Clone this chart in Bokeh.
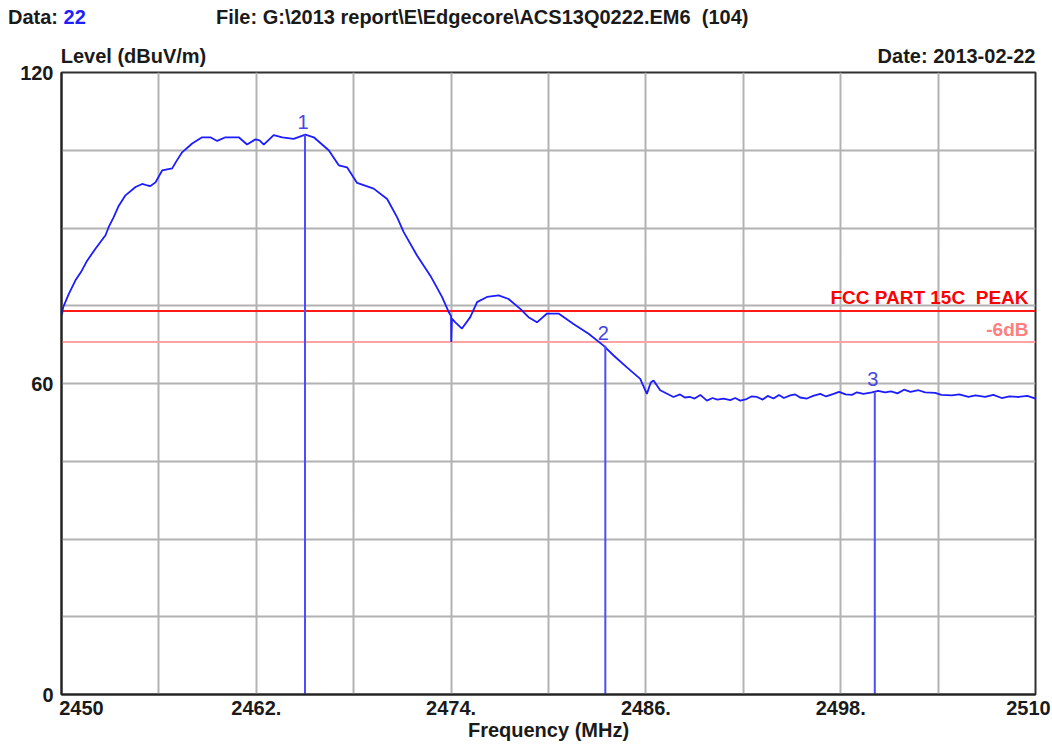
from bokeh.plotting import figure
from bokeh.models import Span, Label, FixedTicker, Range1d, LinearAxis, Div
from bokeh.layouts import column
from bokeh.embed import file_html
from bokeh.resources import INLINE
from bokeh.core.properties import value

# ---------------- data ----------------
freq = [
    2450.00, 2450.04, 2450.10, 2450.45, 2450.86, 2451.20, 2451.58, 2452.09, 2452.71, 2452.91,
    2453.20, 2453.53, 2453.94, 2454.56, 2454.97, 2455.30, 2455.48, 2455.79, 2456.20, 2456.82,
    2457.10, 2457.43, 2458.05, 2458.66, 2459.17, 2459.59, 2460.10, 2460.92, 2461.43, 2461.95,
    2462.20, 2462.46, 2463.07, 2463.60, 2464.30, 2465.02, 2465.54, 2466.46, 2467.08, 2467.59,
    2468.21, 2469.23, 2470.06, 2470.67, 2471.08, 2471.90, 2472.72, 2473.44, 2473.85, 2474.00,
    2474.01, 2474.05, 2474.26, 2474.67, 2475.18, 2475.60, 2476.21, 2476.93, 2477.54, 2478.26,
    2478.77, 2479.29, 2479.91, 2480.62, 2481.54, 2482.47, 2483.39, 2484.01, 2484.83, 2485.65,
    2486.06, 2486.30, 2486.47, 2486.88, 2487.70, 2488.10, 2488.40, 2488.73, 2489.00, 2489.35,
    2489.76, 2490.10, 2490.40, 2490.78, 2491.20, 2491.50, 2491.81, 2492.20, 2492.50, 2492.84,
    2493.20, 2493.50, 2493.86, 2494.20, 2494.50, 2494.89, 2495.20, 2495.50, 2495.92, 2496.30,
    2496.74, 2497.10, 2497.56, 2497.90, 2498.30, 2498.69, 2499.00, 2499.40, 2499.92, 2500.30,
    2500.74, 2501.10, 2501.50, 2501.90, 2502.30, 2502.79, 2503.20, 2503.82, 2504.20, 2504.85,
    2505.30, 2505.87, 2506.30, 2506.90, 2507.40, 2507.92, 2508.40, 2508.95, 2509.50, 2510.00,
]
level = [
    73.3, 73.5, 74.7, 77.3, 79.9, 81.5, 83.7, 86.0, 88.6, 90.2,
    92.0, 94.3, 96.3, 97.9, 98.5, 98.2, 98.1, 98.8, 101.1, 101.5,
    103.0, 104.6, 106.3, 107.5, 107.5, 106.8, 107.5, 107.5, 106.1, 107.1,
    106.9, 106.1, 107.9, 107.5, 107.2, 108.0, 107.5, 105.0, 102.1, 101.7,
    98.7, 97.6, 95.6, 92.1, 89.2, 84.7, 80.8, 76.7, 73.8, 73.0,
    68.0, 72.5, 71.8, 70.6, 72.8, 75.7, 76.7, 77.0, 76.3, 74.4,
    72.8, 71.8, 73.5, 73.5, 71.5, 69.6, 67.3, 65.4, 63.1, 60.9,
    58.0, 60.2, 60.6, 58.7, 57.4, 57.9, 57.3, 57.4, 57.1, 57.8,
    56.7, 57.2, 56.9, 57.1, 56.8, 57.2, 56.7, 57.0, 57.5, 57.4,
    56.9, 57.6, 57.1, 57.8, 57.2, 57.7, 57.9, 57.3, 57.1, 57.6,
    58.0, 57.5, 58.0, 58.4, 57.9, 57.8, 58.3, 58.0, 58.3, 58.6,
    58.3, 58.5, 58.1, 58.8, 58.4, 58.7, 58.3, 58.2, 57.8, 57.7,
    57.9, 57.4, 57.7, 57.4, 57.8, 57.2, 57.5, 57.4, 57.6, 57.1,
]
marker_freq = [2465.0, 2483.5, 2500.1]
marker_level = [108.0, 67.3, 58.3]
marker_base = [0, 0, 0]
marker_names = ["1", "2", "3"]
limit_peak = 74.0
limit_6db = 68.0
x_ticks = [2450, 2462, 2474, 2486, 2498, 2510]
x_tick_labels = ["2450", "2462.", "2474.", "2486.", "2498.", "2510"]
x_grid = [2450, 2456, 2462, 2468, 2474, 2480, 2486, 2492, 2498, 2504, 2510]
y_ticks = [0, 60, 120]
y_grid = [0, 15, 30, 45, 60, 75, 90, 105, 120]

# ---------------- style / layout ----------------
FONT = "Liberation Sans"
FS = "20px"
DARK = "#1a1a1a"
W, H = 1052, 747
HEAD_H = 36
BL, BR, BT, BB = 61, 17, 72 - HEAD_H, 53
XLO, XHI = x_ticks[0], x_ticks[-1]
ppm = (W - BL - BR) / (XHI - XLO)            # pixels per MHz
tick_label_shift_px = [20, 0, 0, 0, 0, -7]   # nudges of the first/last tick labels
header2_text = ["Level (dBuV/m)", "Date: 2013-02-22"]
header2_pos = [XLO + 72 / ppm, XHI - 79 / ppm]

head = Div(
    text=(
        f'<div style="position:relative;width:{W}px;height:{HEAD_H}px;'
        f"font-family:'{FONT}';font-weight:bold;font-size:20px;line-height:23px;color:{DARK};\">"
        '<span style="position:absolute;left:8px;top:6px;white-space:pre;">Data: '
        '<span style="color:#1f1fff">22</span></span>'
        '<span style="position:absolute;left:216px;top:6px;white-space:pre;">'
        'File: G:\\2013 report\\E\\Edgecore\\ACS13Q0222.EM6  (104)</span></div>'
    ),
    width=W, height=HEAD_H, margin=(0, 0, 0, 0),
)

p = figure(width=W, height=H - HEAD_H, x_range=Range1d(XLO, XHI), y_range=Range1d(0, 120),
           output_backend="svg", toolbar_location=None, margin=(0, 0, 0, 0),
           min_border_left=BL, min_border_right=BR, min_border_top=BT, min_border_bottom=BB)
p.background_fill_color = "white"
p.border_fill_color = "white"
p.outline_line_color = "#303030"
p.outline_line_width = 2

p.xgrid.ticker = FixedTicker(ticks=x_grid)
p.ygrid.ticker = FixedTicker(ticks=y_grid)
for g in (p.xgrid, p.ygrid):
    g.grid_line_color = "#b2b2b2"
    g.grid_line_width = 2

# bottom axis: tick labels + axis title
xlab_pos = [t + s / ppm for t, s in zip(x_ticks, tick_label_shift_px)]
xax = p.xaxis[0]
xax.ticker = FixedTicker(ticks=xlab_pos)
xax.major_label_overrides = {pos: s for pos, s in zip(xlab_pos, x_tick_labels)}
xax.axis_label = "Frequency (MHz)"
xax.axis_label_standoff = 1
xax.axis_label_text_font = FONT
xax.axis_label_text_font_style = "bold"
xax.axis_label_text_font_size = FS
xax.axis_label_text_color = DARK
xax.major_label_standoff = 6

# top axis: second header row
top = LinearAxis(ticker=FixedTicker(ticks=header2_pos),
                 major_label_overrides={pos: s for pos, s in zip(header2_pos, header2_text)})
top.axis_line_color = None
top.major_label_standoff = 6
p.add_layout(top, "above")

yax = p.yaxis[0]
yax.ticker = FixedTicker(ticks=y_ticks)
yax.major_label_standoff = 8

for ax in (xax, yax, top):
    ax.major_tick_line_color = None
    ax.minor_tick_line_color = None
    ax.major_tick_out = 0
    ax.major_tick_in = 0
    ax.minor_tick_out = 0
    ax.minor_tick_in = 0
    ax.major_label_text_font = FONT
    ax.major_label_text_font_style = "bold"
    ax.major_label_text_font_size = FS
    ax.major_label_text_color = DARK
for ax in (xax, yax):
    ax.axis_line_color = "#222222"
    ax.axis_line_width = 2

# limit lines
p.add_layout(Span(location=limit_peak, dimension="width", line_color="#ff1a1a", line_width=2,
                  level="underlay"))
p.add_layout(Span(location=limit_6db, dimension="width", line_color="#ffa3a3", line_width=2,
                  level="underlay"))

# curve
p.line(freq, level, line_color="#1c1cff", line_width=1.8)

# markers
p.segment(x0=marker_freq, y0=marker_base, x1=marker_freq, y1=marker_level,
          line_color="#4d4dff", line_width=2)
p.text(x=marker_freq, y=marker_level, text=marker_names, text_font=value(FONT),
       text_font_size=FS, text_color="#4747e0", text_align="center",
       text_baseline="bottom", x_offset=-2, y_offset=-6)

def lab(text, x, y, xo, yo, color, size="19px"):
    p.add_layout(Label(x=x, y=y, x_offset=xo, y_offset=yo, text=text,
                       text_font=FONT, text_font_size=size, text_font_style="bold",
                       text_color=color, text_align="right", text_baseline="middle"))

lab("FCC PART 15C\u00a0 PEAK", XHI, limit_peak, -7, 13, "#ff0000")
lab("-6dB", XHI, limit_6db, -7, 13, "#ff7f7f")

layout = column(head, p, spacing=0)
open("out.html", "w").write(file_html(layout, INLINE))
